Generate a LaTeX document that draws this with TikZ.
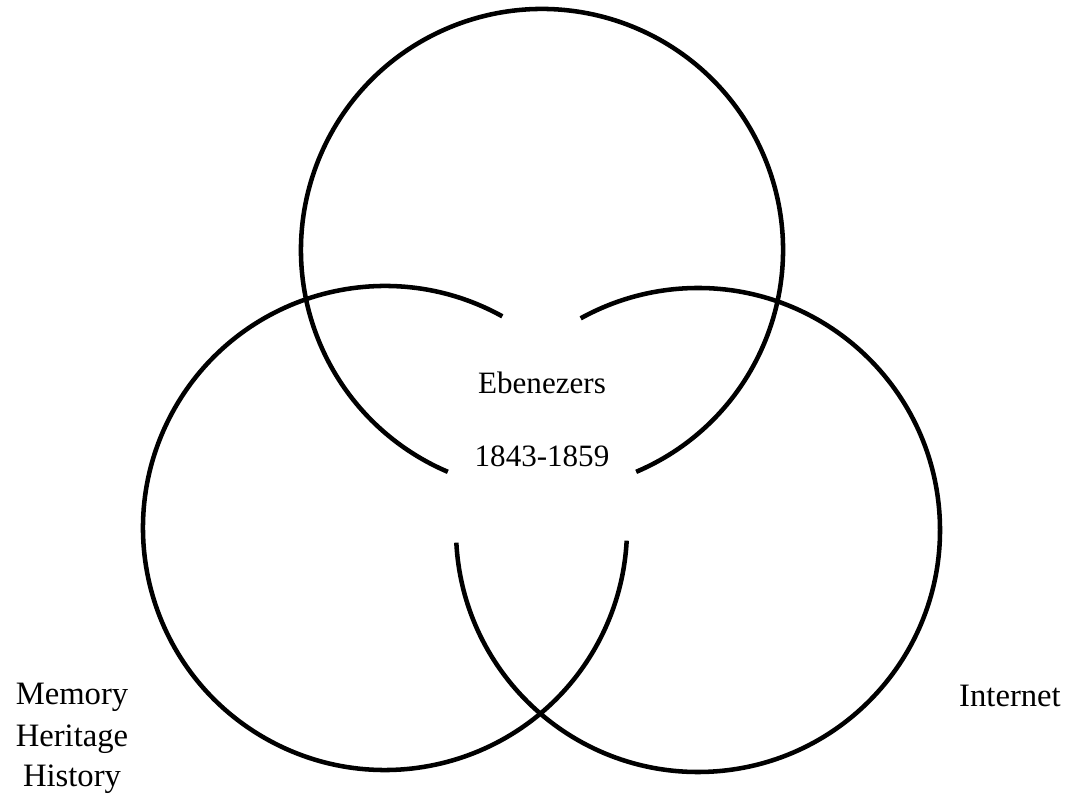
\documentclass[tikz,border=0pt]{standalone}
\usepackage{fontspec}
\setmainfont{Liberation Serif}
\begin{document}
\begin{tikzpicture}[x=0.75pt,y=0.75pt,
  ring/.style={line width=3.4pt,black},
  midlabel/.style={font=\fontsize{23.3}{28}\selectfont,anchor=base,inner sep=0pt},
  sidelabel/.style={font=\fontsize{24.5}{29}\selectfont,anchor=base,inner sep=0pt}]
\useasboundingbox (0,0) rectangle (1077,802);
\coordinate (ct) at (542,552);
\coordinate (cl) at (385,274);
\coordinate (cr) at (698,272);
% top circle
\draw[ring] ([shift={(-67:241)}]ct) arc[start angle=-67,end angle=247,radius=241];
% left circle
\draw[ring] ([shift={(61:242)}]cl) arc[start angle=61,end angle=357,radius=242];
% right circle
\draw[ring] ([shift={(183:242)}]cr) arc[start angle=183,end angle=479,radius=242];
% labels
\node[midlabel] (eb) at (542,408) {Ebenezers};
\node[midlabel] (yr) at (542,335) {1843-1859};
\node[sidelabel] (mem) at (72,97) {Memory};
\node[sidelabel] (her) at (72,55) {Heritage};
\node[sidelabel] (his) at (72,15) {History};
\node[sidelabel] (inet) at (1010,95) {Internet};
\end{tikzpicture}
\end{document}
